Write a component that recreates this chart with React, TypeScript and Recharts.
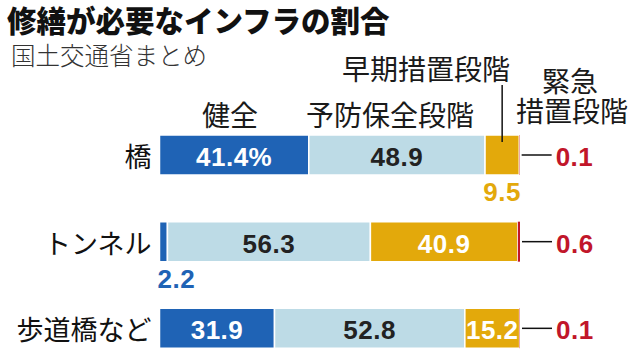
import React from 'react';
import { BarChart, Bar, XAxis, YAxis, LabelList } from 'recharts';

const categories = ['橋', 'トンネル', '歩道橋など'];
const healthy = [41.4, 2.2, 31.9];
const preventive = [48.9, 56.3, 52.8];
const early = [9.5, 40.9, 15.2];
const urgent = [0.1, 0.6, 0.1];

const titleText = '修繕が必要なインフラの割合';
const subtitleText = '国土交通省まとめ';
const seriesLabels = ['健全', '予防保全段階', '早期措置段階', '緊急', '措置段階'];

const data = categories.map((name, i) => ({
  name,
  healthy: healthy[i],
  preventive: preventive[i],
  early: early[i],
  urgent: urgent[i],
}));

const C_BLUE = '#1f63b5';
const C_LIGHT = '#bddbe6';
const C_YELLOW = '#e3a90b';
const C_RED = '#c1162a';
const JP = "'Noto Sans CJK JP', 'Noto Sans', sans-serif";
const NUM = "'Liberation Sans', Arial, sans-serif";

const CatTick = (props: any) => {
  const { x, y, payload } = props;
  return (
    <text x={x} y={y} textAnchor="end" dominantBaseline="central" fontSize={27} fontFamily={JP} fill="#111">
      {payload.value}
    </text>
  );
};

const numProps = {
  fontFamily: NUM,
  fontWeight: 700,
  fontSize: 26,
  letterSpacing: 0.5,
  dominantBaseline: 'central' as any,
};

const makeLabel = (seriesIdx: number, inColor: string, outColor: string) => (props: any) => {
  const { x, y, width, height, value, index } = props;
  const xs = Number(x), ys = Number(y), w = Number(width), h = Number(height);
  const txt = Number(value).toFixed(1) + (seriesIdx === 0 && index === 0 ? '%' : '');
  if (w >= 40) {
    return (
      <text x={xs + w / 2} y={ys + h / 2 + 2} textAnchor="middle" fill={inColor} {...numProps}>
        {txt}
      </text>
    );
  }
  if (seriesIdx === 0) {
    return (
      <text x={xs - 2} y={ys + h + 17} textAnchor="start" fill={outColor} {...numProps}>
        {txt}
      </text>
    );
  }
  return (
    <g>
      {index === 0 && seriesIdx === 2 ? (
        <line x1={xs + w / 2} x2={xs + w / 2} y1={85} y2={ys + 7} stroke="#111" strokeWidth={1.5} />
      ) : null}
      <text x={xs + w / 2} y={ys + h + 17} textAnchor="middle" fill={outColor} {...numProps}>
        {txt}
      </text>
    </g>
  );
};

const UrgentLabel = (props: any) => {
  const { x, y, width, height, value } = props;
  const xe = Number(x) + Number(width);
  const cy = Number(y) + Number(height) / 2;
  return (
    <g>
      <line x1={xe + 2} x2={xe + 32} y1={cy} y2={cy} stroke="#111" strokeWidth={1.5} />
      <text x={xe + 36} y={cy + 2} textAnchor="start" fill={C_RED} {...numProps}>
        {Number(value).toFixed(1)}
      </text>
    </g>
  );
};

const txtStyle = (left: number, top: number, size: number, extra: any = {}) => ({
  position: 'absolute' as const,
  left,
  top,
  fontSize: size,
  lineHeight: `${size}px`,
  fontFamily: JP,
  color: '#1a1a1a',
  whiteSpace: 'nowrap' as const,
  ...extra,
});

export default function App() {
  return (
    <div
      style={{
        position: 'absolute',
        left: 0,
        top: 0,
        width: 640,
        height: 352,
        overflow: 'hidden',
        background: '#fff',
      }}
    >
      <div style={{ position: 'absolute', left: 0, top: 0 }}>
        <BarChart
          width={640}
          height={372}
          data={data}
          layout="vertical"
          margin={{ top: 112, right: 120, bottom: 0, left: 0 }}
          barSize={40}
        >
          <XAxis type="number" domain={[0, 100]} hide />
          <YAxis
            type="category"
            dataKey="name"
            width={159.5}
            axisLine={false}
            tickLine={false}
            tick={<CatTick />}
          />
          <Bar dataKey="healthy" stackId="a" fill={C_BLUE} stroke="#fff" strokeWidth={1.5} isAnimationActive={false}>
            <LabelList dataKey="healthy" content={makeLabel(0, '#fff', C_BLUE)} />
          </Bar>
          <Bar dataKey="preventive" stackId="a" fill={C_LIGHT} stroke="#fff" strokeWidth={1.5} isAnimationActive={false}>
            <LabelList dataKey="preventive" content={makeLabel(1, '#222', C_LIGHT)} />
          </Bar>
          <Bar dataKey="early" stackId="a" fill={C_YELLOW} stroke="#fff" strokeWidth={1.5} isAnimationActive={false}>
            <LabelList dataKey="early" content={makeLabel(2, '#fff', C_YELLOW)} />
          </Bar>
          <Bar dataKey="urgent" stackId="a" fill={C_RED} isAnimationActive={false}>
            <LabelList dataKey="urgent" content={<UrgentLabel />} />
          </Bar>
        </BarChart>
      </div>
      <div style={txtStyle(7, 5, 29.5, { fontWeight: 900, color: '#111' })}>{titleText}</div>
      <div style={txtStyle(11, 43, 24.5, { color: '#333', fontWeight: 300 })}>{subtitleText}</div>
      <div style={txtStyle(202, 100, 28)}>{seriesLabels[0]}</div>
      <div style={txtStyle(306, 100, 28)}>{seriesLabels[1]}</div>
      <div style={txtStyle(342, 54, 28)}>{seriesLabels[2]}</div>
      <div style={txtStyle(516, 65, 28, { lineHeight: '30px' })}>
        <span style={{ display: 'block', paddingLeft: 26 }}>{seriesLabels[3]}</span>
        <span style={{ display: 'block' }}>{seriesLabels[4]}</span>
      </div>
    </div>
  );
}
